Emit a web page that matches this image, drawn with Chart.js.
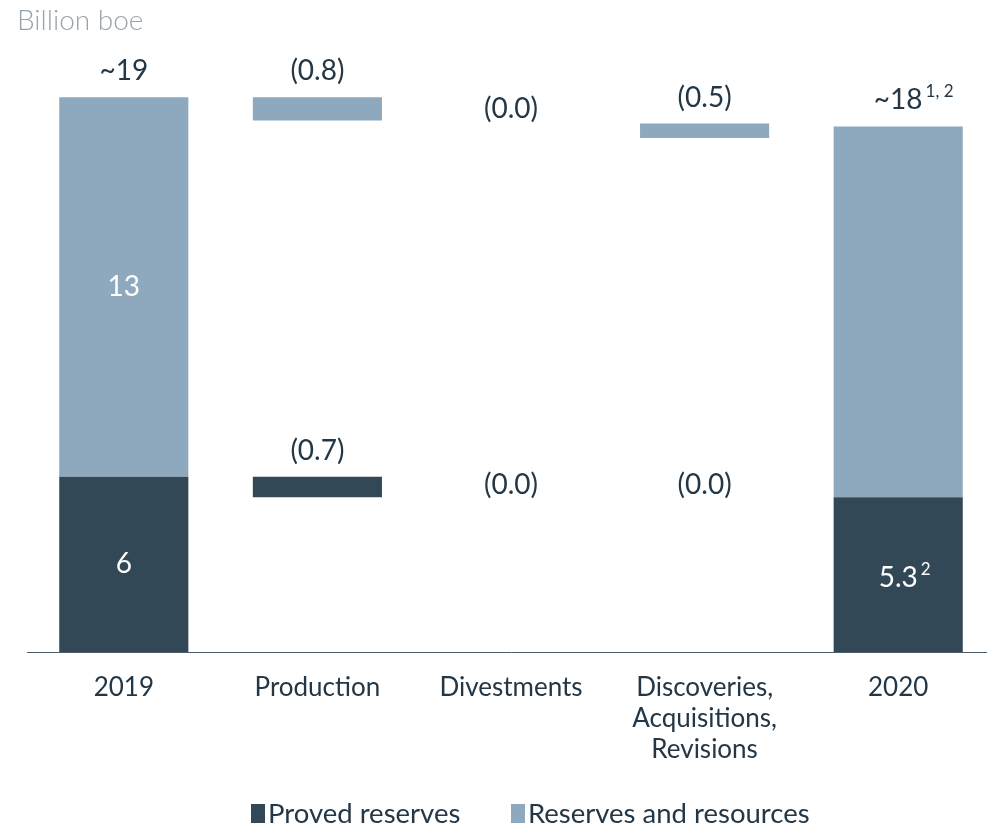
<!DOCTYPE html>
<html lang="en">
<head>
  <meta charset="UTF-8" />
  <title>Reserves and resources</title>
  <script src="https://cdn.jsdelivr.net/npm/chart.js"></script>
  <style>
    html, body {
      margin: 0;
      padding: 0;
      background: #ffffff;
      overflow: hidden;
    }
    .chart-box {
      position: relative;
      width: 995px;
      height: 826px;
    }
  </style>
</head>
<body>
<div class="chart-box">
  <canvas id="reservasChart"></canvas>
</div>

<script>
  // dados (bilhões de boe)
  const categories = ['2019', 'Production', 'Divestments', ['Discoveries,', 'Acquisitions,', 'Revisions'], '2020'];
  const provedValues = [[0, 6], [5.3, 6.0], [5.3, 5.3], [5.3, 5.3], [0, 5.3]];
  const reservesValues = [[6, 19], [18.2, 19], [18.2, 18.2], [17.6, 18.1], [5.3, 18.0]];

  const provedTopLabels = ['', '(0.7)', '(0.0)', '(0.0)', ''];
  const reservesTopLabels = ['~19', '(0.8)', '(0.0)', '(0.5)', '~18'];
  const reservesTopSup = ['', '', '', '', '1, 2'];
  const provedInnerLabels = ['6', '', '', '', '5.3'];
  const provedInnerSup = ['', '', '', '', '2'];
  const reservesInnerLabels = ['13', '', '', '', ''];

  const corEscura = '#334857';
  const corClara = '#8ea9bd';
  const corTexto = '#243746';
  const fonte = 'Lato, "Open Sans", sans-serif';

  function escreverComSup(ctx, texto, sup, x, y, tamanho, cor) {
    ctx.fillStyle = cor;
    ctx.font = `400 ${tamanho}px ${fonte}`;
    ctx.textAlign = 'center';
    ctx.textBaseline = 'middle';
    ctx.fillText(texto, x, y);
    if (sup) {
      const w = ctx.measureText(texto).width;
      ctx.font = `400 ${Math.round(tamanho * 0.62)}px ${fonte}`;
      ctx.textAlign = 'left';
      ctx.fillText(sup, x + w / 2 + 3, y - tamanho * 0.3);
    }
  }

  const rotulosPlugin = {
    id: 'rotulos',
    afterDatasetsDraw(chart) {
      const ctx = chart.ctx;
      const metaProved = chart.getDatasetMeta(0);
      const metaReserves = chart.getDatasetMeta(1);
      ctx.save();

      categories.forEach((c, i) => {
        const bp = metaProved.data[i];
        const br = metaReserves.data[i];

        // rótulos acima das barras
        [[br, reservesTopLabels[i], reservesTopSup[i]], [bp, provedTopLabels[i], '']].forEach(([bar, txt, sup]) => {
          if (!txt) return;
          const top = Math.min(bar.y, bar.base);
          const altura = Math.abs(bar.base - bar.y);
          const y = altura < 1 ? top - 12 : top - 26;
          escreverComSup(ctx, txt, sup, bar.x, y, 28, corTexto);
        });

        // rótulos dentro das barras
        if (reservesInnerLabels[i]) {
          escreverComSup(ctx, reservesInnerLabels[i], '', br.x, (br.y + br.base) / 2, 28, '#ffffff');
        }
        if (provedInnerLabels[i]) {
          escreverComSup(ctx, provedInnerLabels[i], provedInnerSup[i], bp.x, (bp.y + bp.base) / 2 + (provedInnerSup[i] ? 3 : 0), 28, '#ffffff');
        }
      });

      // unidade
      ctx.fillStyle = '#98a4ad';
      ctx.font = `300 28px ${fonte}`;
      ctx.textAlign = 'left';
      ctx.textBaseline = 'middle';
      ctx.fillText('Billion boe', 17, 21);

      // legenda
      const legenda = [
        { texto: 'Proved reserves', cor: corEscura, x: 251 },
        { texto: 'Reserves and resources', cor: corClara, x: 511 },
      ];
      legenda.forEach((l) => {
        ctx.fillStyle = l.cor;
        ctx.fillRect(l.x, 804, 14, 19);
        ctx.fillStyle = corTexto;
        ctx.font = `400 27.5px ${fonte}`;
        ctx.fillText(l.texto, l.x + 17, 814);
      });

      ctx.restore();
    },
  };

  new Chart(document.getElementById('reservasChart'), {
    type: 'bar',
    data: {
      labels: categories,
      datasets: [
        {
          label: 'Proved reserves',
          data: provedValues,
          backgroundColor: corEscura,
          grouped: false,
          barPercentage: 0.667,
          categoryPercentage: 1,
          borderWidth: 0,
          order: 1,
        },
        {
          label: 'Reserves and resources',
          data: reservesValues,
          backgroundColor: corClara,
          grouped: false,
          barPercentage: 0.667,
          categoryPercentage: 1,
          borderWidth: 0,
          order: 2,
        },
      ],
    },
    options: {
      responsive: true,
      maintainAspectRatio: false,
      animation: false,
      layout: { padding: { top: 68, left: 27, right: 0, bottom: 0 } },
      plugins: {
        legend: { display: false },
        tooltip: { enabled: false },
      },
      scales: {
        x: {
          grid: { display: false, drawTicks: false },
          border: { display: true, color: '#4d5f6c', width: 1 },
          ticks: {
            color: corTexto,
            font: { family: fonte, size: 26, lineHeight: 1.2 },
            padding: 20,
            maxRotation: 0,
            autoSkip: false,
          },
          afterFit(scale) {
            scale.height = 174;
          },
        },
        y: {
          display: false,
          min: 0,
          max: 20,
        },
      },
    },
    plugins: [rotulosPlugin],
  });
</script>
</body>
</html>
